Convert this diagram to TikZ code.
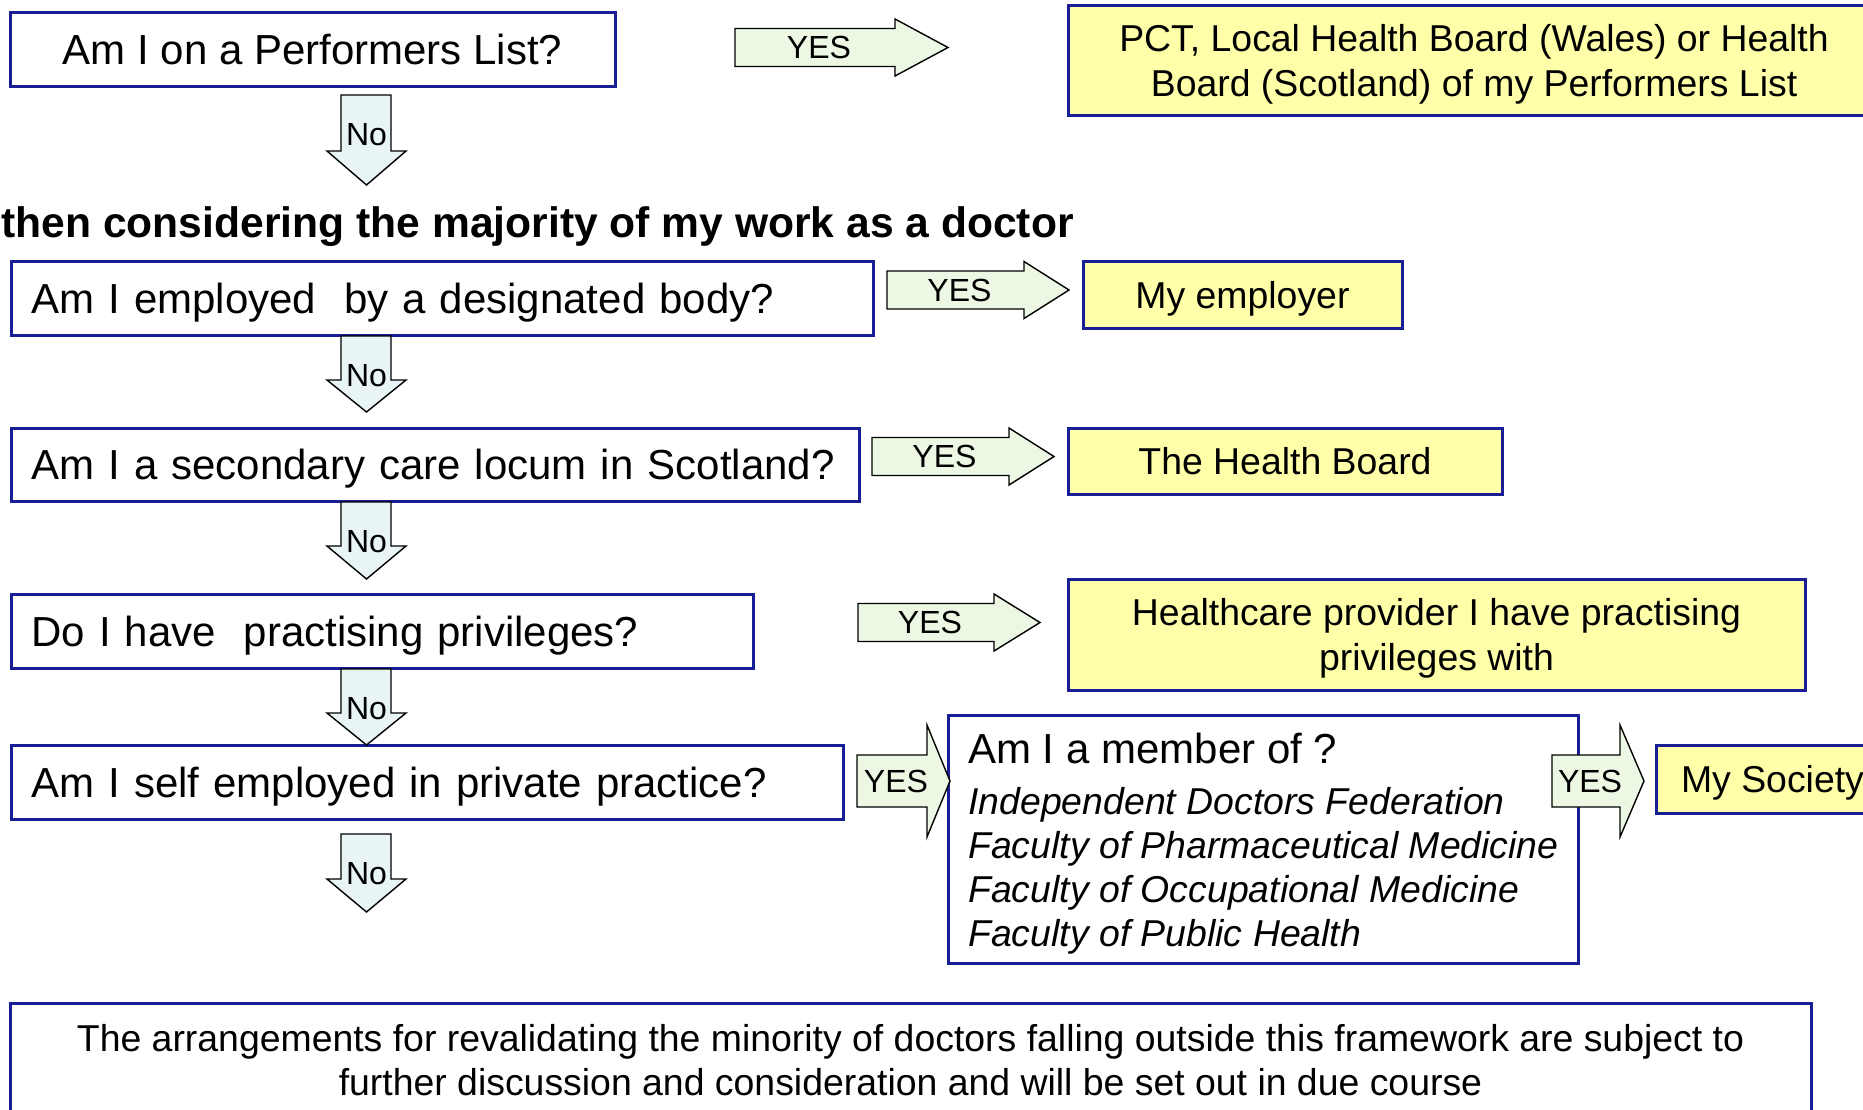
\documentclass[tikz,border=0pt]{standalone}
\usepackage{fontspec}
\setmainfont{Liberation Sans}
\usepackage{xcolor}

\definecolor{boxblue}{RGB}{25,30,150}
\definecolor{ansyellow}{RGB}{255,255,170}
\definecolor{yesgreen}{RGB}{236,248,228}
\definecolor{nocyan}{RGB}{232,244,246}

\tikzset{
  qbox/.style={draw=boxblue, line width=1.5pt, fill=white, inner sep=0pt, text depth=0pt,
    font=\fontsize{21}{25}\selectfont},
  ansbox/.style={draw=boxblue, line width=1.5pt, fill=ansyellow, inner sep=0pt, text depth=0pt,
    align=center, font=\fontsize{18.7}{22.5}\selectfont},
  blockarrow/.style={draw=black, line width=0.7pt, line join=miter},
  arrowtext/.style={inner sep=0pt, font=\fontsize{16}{18}\selectfont},
}

% name, left x, mid y, head x, tip x, body half, head half
\newcommand{\yesarrow}[7]{%
  \draw[blockarrow, fill=yesgreen] (#2,#3-#6) -- (#4,#3-#6) -- (#4,#3-#7) -- (#5,#3)
    -- (#4,#3+#7) -- (#4,#3+#6) -- (#2,#3+#6) -- cycle;
  \node[arrowtext] (#1) at ({(#2+#4)/2+4},#3) {YES};
}
% name, top y, head y, tip y
\newcommand{\noarrow}[4]{%
  \draw[blockarrow, fill=nocyan] (341,#2) -- (391,#2) -- (391,#3) -- (406,#3)
    -- (366.5,#4) -- (327,#3) -- (341,#3) -- cycle;
  \node[arrowtext] (#1) at (366.5,#2+40) {No};
}

\begin{document}
\begin{tikzpicture}[x=0.5pt, y=-0.5pt]
  \useasboundingbox (0,0) rectangle (1863,1109);

  % questions
  \node[qbox, minimum width=302.5pt, minimum height=37pt] (performers) at (312.5,49) {Am I on a Performers List?};
  \node[anchor=base west, inner sep=0pt, font=\bfseries\fontsize{21.3}{25}\selectfont] (heading) at (1,237)
    {then considering the majority of my work as a doctor};
  \node[qbox, anchor=west, inner xsep=10pt, text width=411pt, minimum height=37pt, align=left] (employed) at (10,298)
    {Am I employed\ \ by a designated body?};
  \node[qbox, anchor=west, inner xsep=10pt, text width=404pt, minimum height=36.5pt, align=left] (locum) at (10,464.5)
    {Am I a secondary care locum in Scotland?};
  \node[qbox, anchor=west, inner xsep=10pt, text width=351pt, minimum height=37pt, align=left] (privileges) at (10,631)
    {Do I have\ \ practising privileges?};
  \node[qbox, anchor=west, inner xsep=10pt, text width=396pt, minimum height=37pt, align=left] (selfemp) at (10,782)
    {Am I self employed in private practice?};
  \node[qbox, anchor=north west, minimum width=315pt, minimum height=124pt, align=left,
    font=\fontsize{18.7}{22}\selectfont] (member) at (947,714)
    {{\fontsize{21}{25}\selectfont Am I a member of ?}\\[3.5pt]
     \textit{Independent Doctors Federation}\\
     \textit{Faculty of Pharmaceutical Medicine}\\
     \textit{Faculty of Occupational Medicine}\\
     \textit{Faculty of Public Health}};

  % answers
  \node[ansbox, minimum width=406pt, minimum height=55pt] (pct) at (1474,60)
    {PCT, Local Health Board (Wales) or Health\\Board (Scotland) of my Performers List};
  \node[ansbox, minimum width=159.5pt, minimum height=33.5pt] (employer) at (1242.5,294.5) {My employer};
  \node[ansbox, minimum width=217pt, minimum height=33pt] (healthboard) at (1285,461) {The Health Board};
  \node[ansbox, minimum width=368.5pt, minimum height=55.5pt] (provider) at (1436.5,634.5)
    {Healthcare provider I have practising\\privileges with};
  \node[ansbox, anchor=west, minimum width=116pt, minimum height=34pt] (society) at (1655,779) {My Society};

  \node[qbox, minimum width=900.5pt, minimum height=57pt, align=center, font=\fontsize{18.7}{22}\selectfont] (rest) at (910.5,1060)
    {The arrangements for revalidating the minority of doctors falling outside this framework are subject to\\
     further discussion and consideration and will be set out in due course};

  % yes arrows
  \yesarrow{yes1}{735}{47.5}{895}{948}{19}{28.5}
  \yesarrow{yes2}{887}{290}{1024}{1069}{19}{28.5}
  \yesarrow{yes3}{872}{456.5}{1009}{1054}{19}{28.5}
  \yesarrow{yes4}{858}{622.5}{994}{1040}{19}{28.5}
  \yesarrow{yes5}{857}{781}{927}{950}{26}{56}
  \yesarrow{yes6}{1552}{781}{1620}{1644}{26}{56}

  % no arrows
  \noarrow{no1}{95}{151}{185}
  \noarrow{no2}{336}{380}{412}
  \noarrow{no3}{502}{546}{579}
  \noarrow{no4}{669}{713}{745}
  \noarrow{no5}{834}{879}{912}
\end{tikzpicture}
\end{document}
